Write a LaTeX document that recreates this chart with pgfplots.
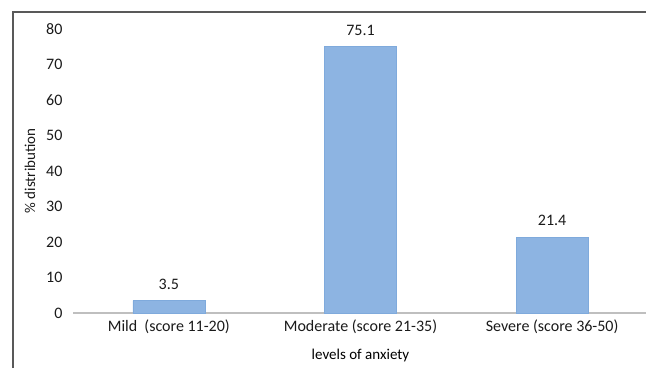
\documentclass[border=0pt]{standalone}
\usepackage{pgfplots}
\pgfplotsset{compat=1.18}
\usepackage{fontspec}
\setmainfont{Carlito}
\definecolor{barfill}{HTML}{8DB4E2}
\definecolor{bardraw}{HTML}{7FAADC}
\definecolor{axisgray}{HTML}{BFBFBF}
\definecolor{framegray}{HTML}{595959}
\definecolor{txt}{HTML}{1A1A1A}
\begin{document}
\begin{tikzpicture}[x=1pt,y=1pt]
\useasboundingbox (0,0) rectangle (646,368);
\draw[framegray, line width=1.3pt] (13,0) -- (13,356) -- (646,356);
\begin{axis}[
  at={(73pt,55pt)}, anchor=south west,
  scale only axis, width=575pt, height=284pt,
  xmin=-0.5, xmax=2.5, ymin=0, ymax=80,
  hide y axis,
  axis x line*=bottom,
  x axis line style={axisgray, line width=1.2pt, -},
  xtick=data,
  xticklabels={Mild\ \ (score 11-20), Moderate (score 21-35), Severe (score 36-50)},
  major tick length=0pt,
  font=\fontsize{16}{19}\selectfont\color{txt},
  ticklabel style={font=\fontsize{16}{19}\selectfont, text=txt},
  xlabel={levels of anxiety},
  xlabel style={at={(axis description cs:0.5,-0.148)}, anchor=center, font=\fontsize{15}{18}\selectfont},
  xticklabel style={yshift=-3pt},
  clip=false,
]
\addplot[ybar, bar width=72pt, fill=barfill, draw=bardraw,
  nodes near coords, nodes near coords style={font=\fontsize{16}{19}\selectfont, text=txt, anchor=south, inner sep=0pt, yshift=11pt},
  point meta=explicit symbolic]
  table[meta=lab] {
x y lab
0 3.5 3.5
1 75.1 75.1
2 21.4 21.4
};
\end{axis}
\begin{axis}[
  at={(73pt,55pt)}, anchor=south west,
  scale only axis, width=575pt, height=284pt,
  xmin=-0.5, xmax=2.5, ymin=0, ymax=80,
  hide x axis,
  axis y line*=left,
  y axis line style={draw=none},
  ytick={0,10,...,80},
  major tick length=0pt,
  ticklabel style={font=\fontsize{16}{19}\selectfont, text=txt},
  /pgf/number format/assume math mode=true,
  ylabel={\% distribution},
  ylabel style={at={(axis description cs:-0.075,0.5)}, anchor=center, font=\fontsize{15}{18}\selectfont, text=txt},
  yticklabel style={xshift=-7pt},
]
\end{axis}
\end{tikzpicture}
\end{document}
